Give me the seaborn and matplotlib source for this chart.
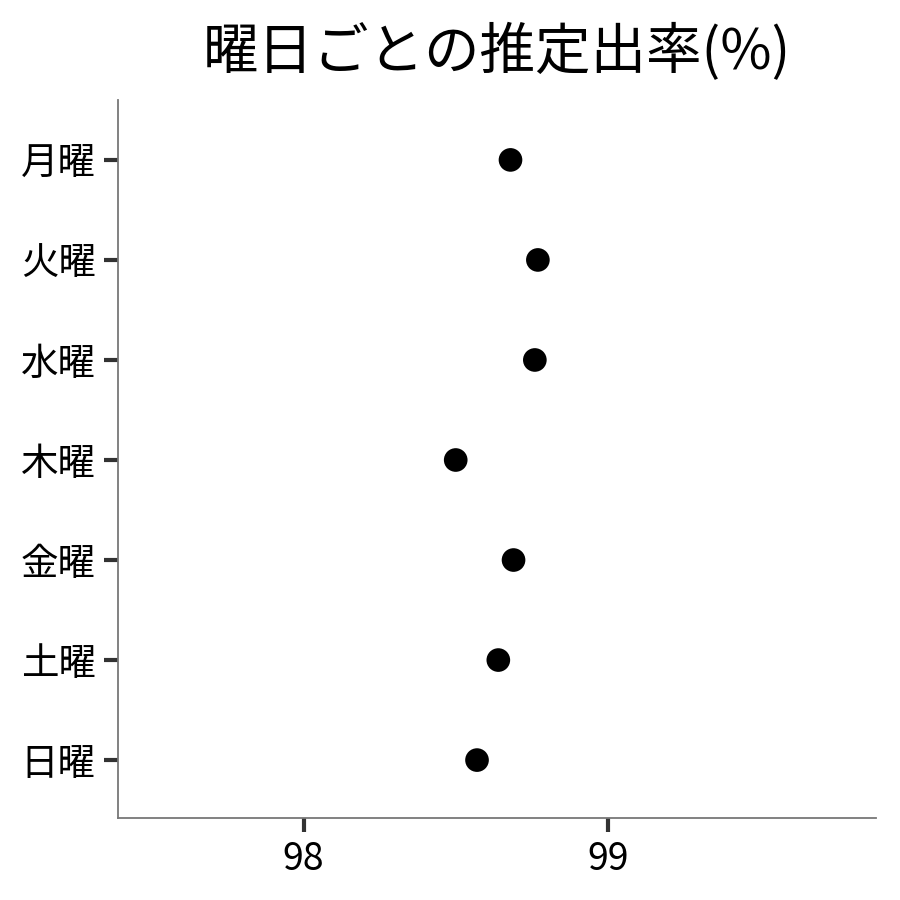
import matplotlib

matplotlib.use("Agg")
import matplotlib.pyplot as plt
import pandas as pd
import seaborn as sns

# data
days = ["月曜", "火曜", "水曜", "木曜", "金曜", "土曜", "日曜"]
rates = [98.68, 98.77, 98.76, 98.50, 98.69, 98.64, 98.57]
x_ticks = [98, 99]
title = "曜日ごとの推定出率(%)"

sns.set_theme(style="white")
plt.rcParams["font.family"] = ["Noto Sans CJK JP", "DejaVu Sans"]
plt.rcParams["text.color"] = "black"
plt.rcParams["xtick.labelcolor"] = "black"
plt.rcParams["ytick.labelcolor"] = "black"

df = pd.DataFrame({"day": days, "rate": rates})

fig = plt.figure(figsize=(9, 9), dpi=100)
ax = fig.add_axes([0.131, 0.091, 0.842, 0.798])

sns.scatterplot(data=df, x="rate", y="day", ax=ax, color="black", s=290,
                edgecolor="none", legend=False)

ax.set_xlim(97.39, 99.88)
ax.set_ylim(len(days) - 1 + 0.58, -0.6)
ax.set_xticks(x_ticks)
ax.set_xlabel("")
ax.set_ylabel("")
ax.set_title(title, fontsize=40, pad=22, color="black")

for side in ["top", "right"]:
    ax.spines[side].set_visible(False)
for side in ["left", "bottom"]:
    ax.spines[side].set_color("#777777")
    ax.spines[side].set_linewidth(1.3)

ax.tick_params(axis="both", length=10, width=3, color="#333333",
               labelsize=27, pad=6, direction="out", labelcolor="black")
ax.tick_params(axis="both", which="major", bottom=True, left=True)
for t in ax.get_xticklines() + ax.get_yticklines():
    t.set_clip_on(False)

fig.savefig("out.png", dpi=100)
plt.close(fig)
